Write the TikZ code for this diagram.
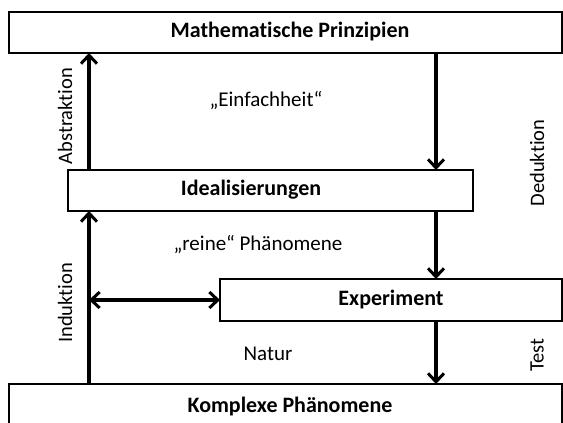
\documentclass[tikz,border=0pt]{standalone}
\usepackage{fontspec}
\setmainfont[Ligatures={NoCommon}]{Carlito}
\usetikzlibrary{arrows.meta}
\begin{document}
\begin{tikzpicture}[x=1pt,y=-1pt,
  box/.style={draw=black,line width=2.3pt,fill=white,inner sep=0pt},
  boxlabel/.style={font=\bfseries\fontsize{22}{25}\selectfont},
  txt/.style={font=\fontsize{21}{24}\selectfont},
  sidelabel/.style={font=\fontsize{20.5}{24}\selectfont,rotate=90},
  flow/.style={line width=3.2pt,-{Straight Barb[length=8.5pt,width=16pt,line width=3pt]}},
  both/.style={line width=3.2pt,{Straight Barb[length=8.5pt,width=16pt,line width=3pt]}-{Straight Barb[length=8.5pt,width=16pt,line width=3pt]}}]
  \clip (0,0) rectangle (563,423);
  \fill[white] (0,0) rectangle (563,423);

  % boxes
  \draw[box] (9,12) rectangle (562,53);
  \draw[box] (68,170) rectangle (473,211);
  \draw[box] (220,279) rectangle (562,321);
  \draw[box] (9,384) rectangle (562,430);

  \node[boxlabel] (math) at (290,32) {Mathematische Prinzipien};
  \node[boxlabel] (ideal) at (251,190) {Idealisierungen};
  \node[boxlabel] (exp) at (391,300) {Experiment};
  \node[boxlabel] (komp) at (290,407) {Komplexe Phänomene};

  % connector anchor points on the box edges
  \coordinate (mathL) at (89,53);
  \coordinate (mathR) at (436,53);
  \coordinate (idealTL) at (89,170);
  \coordinate (idealTR) at (436,170);
  \coordinate (idealBL) at (89,211);
  \coordinate (idealBR) at (436,211);
  \coordinate (expL) at (220,300);
  \coordinate (induktL) at (89,300);
  \coordinate (expB) at (436,321);
  \coordinate (expT) at (436,279);
  \coordinate (kompL) at (89,384);
  \coordinate (kompR) at (436,384);

  \draw[flow] (idealTL) -- (mathL);
  \draw[flow] (mathR) -- (idealTR);
  \draw[flow] (kompL) -- (idealBL);
  \draw[flow] (idealBR) -- (expT);
  \draw[flow] (expB) -- (kompR);
  \draw[both] (induktL) -- (expL);

  % labels
  \node[txt] (einf) at (266,101) {„Einfachheit“};
  \node[txt] (rein) at (258,244) {„reine“ Phänomene};
  \node[txt] (natur) at (268,354) {Natur};
  \node[sidelabel] (abs) at (65,116) {Abstraktion};
  \node[sidelabel] (ind) at (65,303) {Induktion};
  \node[sidelabel] (ded) at (537,163) {Deduktion};
  \node[sidelabel] (test) at (537,355) {Test};
\end{tikzpicture}
\end{document}
